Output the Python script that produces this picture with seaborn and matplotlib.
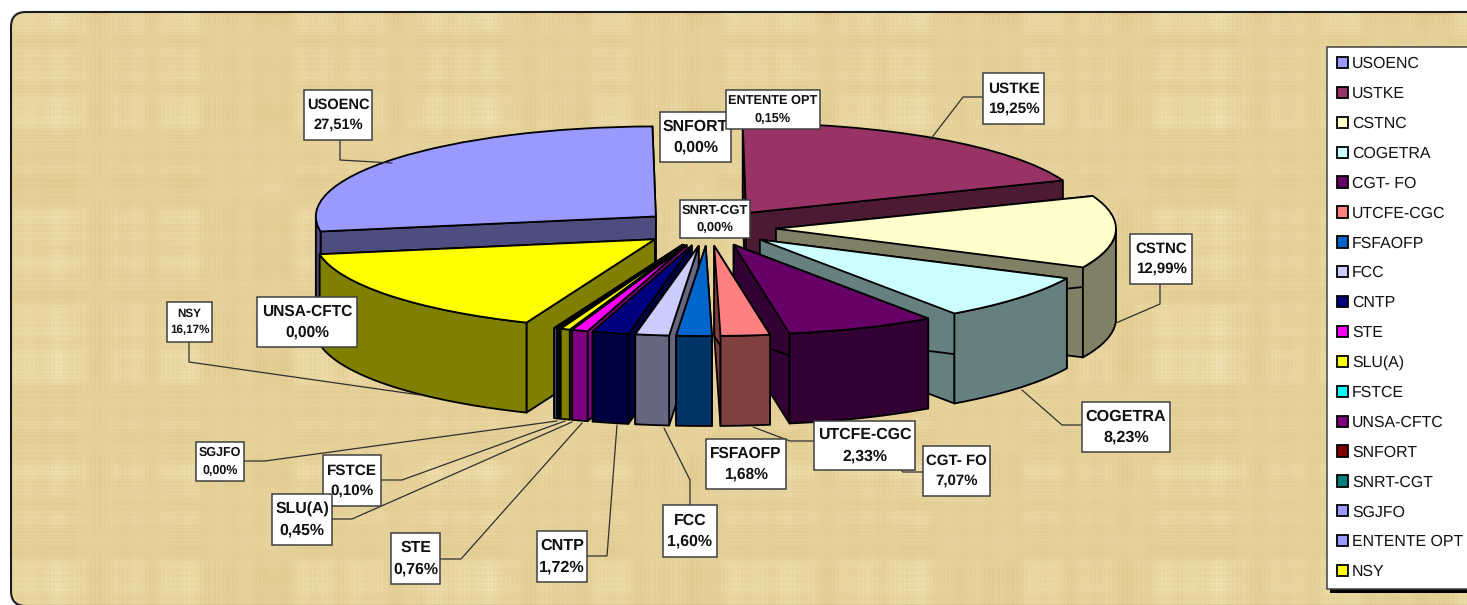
import numpy as np
import matplotlib
matplotlib.use("Agg")
import matplotlib.pyplot as plt
from matplotlib.patches import FancyBboxPatch, Polygon, Rectangle, Patch
import seaborn as sns

# ---- data ----
names = ["USOENC", "USTKE", "CSTNC", "COGETRA", "CGT- FO", "UTCFE-CGC", "FSFAOFP", "FCC", "CNTP",
         "STE", "SLU(A)", "FSTCE", "UNSA-CFTC", "SNFORT", "SNRT-CGT", "SGJFO", "ENTENTE OPT", "NSY"]
shares = [27.51, 19.25, 12.99, 8.23, 7.07, 2.33, 1.68, 1.60, 1.72,
          0.76, 0.45, 0.10, 0.00, 0.00, 0.00, 0.00, 0.15, 16.17]
colors = ["#9999FF", "#993366", "#FFFFCC", "#CCFFFF", "#660066", "#FF8080", "#0066CC", "#CCCCFF", "#000080",
          "#FF00FF", "#FFFF00", "#00FFFF", "#800080", "#800000", "#008080", "#9999FF", "#9999FF", "#FFFF00"]

# label boxes as (x0, y0, x1, y1, font size) in figure pixels: layout only
boxes = {
    "USOENC": (304, 90, 372, 140, 10.5), "USTKE": (983, 73, 1044, 124, 11),
    "ENTENTE OPT": (726, 90, 820, 129, 9.2), "SNFORT": (660, 112, 731, 162, 11.4),
    "SNRT-CGT": (680, 200, 750, 238, 9.4), "CSTNC": (1130, 234, 1192, 284, 10.8),
    "NSY": (167, 302, 212, 342, 8.4), "UNSA-CFTC": (257, 297, 357, 347, 11.2),
    "COGETRA": (1082, 402, 1170, 452, 11.6), "CGT- FO": (923, 446, 990, 496, 10.8),
    "UTCFE-CGC": (814, 421, 915, 470, 11.4), "FSFAOFP": (706, 439, 786, 489, 11.2),
    "FCC": (663, 505, 717, 557, 11.4), "CNTP": (537, 531, 587, 582, 11.6),
    "STE": (391, 533, 440, 584, 11.4), "FSTCE": (323, 455, 381, 506, 11),
    "SLU(A)": (272, 494, 332, 545, 11.4), "SGJFO": (196, 442, 244, 481, 9),
}
leaders = {
    "SGJFO": [(244, 461), (265, 461), (557, 421)], "FSTCE": [(381, 480), (402, 480), (565, 421)],
    "SLU(A)": [(332, 519), (352, 519), (572, 422)], "STE": [(440, 559), (461, 559), (582, 423)],
    "CNTP": [(587, 556), (607, 556), (617, 425)], "FCC": [(690, 505), (690, 480), (664, 428)],
    "UTCFE-CGC": [(814, 441), (790, 441), (753, 427)], "CGT- FO": [(923, 472), (903, 472), (860, 425)],
    "COGETRA": [(1082, 425), (1062, 425), (1022, 390)], "CSTNC": [(1160, 284), (1160, 304), (1116, 323)],
    "USTKE": [(983, 97), (963, 97), (930, 140)], "USOENC": [(340, 140), (340, 160), (392, 163)],
    "NSY": [(189, 342), (189, 362), (420, 395)],
}

# ---- setup ----
sns.set_theme(style="white")
plt.rcParams["font.family"] = ["Liberation Sans", "DejaVu Sans"]
plt.rcParams["text.hinting"] = "no_hinting"
W, H = 1467, 605
fig = plt.figure(figsize=(W / 100, H / 100), dpi=100, facecolor="white")
palette = sns.color_palette(colors)

# ---- parchment background ----
bg = fig.add_axes([0, 0, 1, 1], zorder=0)
bg.set_xlim(0, W); bg.set_ylim(H, 0); bg.axis("off")
xx, yy = np.arange(W, dtype=float), np.arange(H, dtype=float)
fine_x = np.sin(xx * 2.1) * .5 + np.sin(xx * 1.37 + .4) * .4 + np.sin(xx / 4.3 + 1) * .5
fine_y = np.sin(yy * 1.9) * .5 + np.sin(yy * 1.13 + 2) * .4 + np.sin(yy / 3.7) * .5
wide_x = np.sin(xx / 23.1) * .6 + np.sin(xx / 9.7 + 1.3) * .5 + np.sin(xx / 61. + .5) * .4
wide_y = np.sin(yy / 19.3 + 2) * .6 + np.sin(yy / 8.1) * .5 + np.sin(yy / 47. + 1) * .4
tex = (fine_x[None, :] * 2.4 * (1 + .5 * wide_y[:, None]) + fine_y[:, None] * 2.2 * (1 + .5 * wide_x[None, :])
       + wide_x[None, :] * wide_y[:, None] * 3.5 + wide_x[None, :] * 1.8 + wide_y[:, None] * 1.5)
base = np.array([230, 210, 155], float)
img = np.clip(base[None, None, :] + tex[..., None] * np.array([0.9, 1.2, 2.0]), 0, 255) / 255
im = bg.imshow(img, extent=(0, W, H, 0), aspect="auto", zorder=1, interpolation="bilinear")
clip = FancyBboxPatch((11, 12), 1490, 594, boxstyle="round,pad=0,rounding_size=15", fc="none",
                      ec="#1c1c1c", lw=1.5, transform=bg.transData, zorder=2)
bg.add_patch(clip)
im.set_clip_path(clip)

# ---- exploded pie seen at an angle ----
CX, CY, RX, RY, DEPTH = 708, 228, 340, 90, 90
ax = fig.add_axes([0, 0, 1, 1], zorder=1)
ax.patch.set_alpha(0)
wedges, _ = ax.pie(shares, colors=palette, startangle=189.6, counterclock=False,
                   explode=[0.2] * len(shares), radius=1,
                   wedgeprops=dict(edgecolor="black", linewidth=1.3))
ax.set_aspect("auto")
ax.set_xlim(-CX / RX, (W - CX) / RX)
ax.set_ylim(-(H - CY) / RY, CY / RY)
ax.axis("off")
d = DEPTH / RY


def dark(c):
    return tuple(0.5 * v for v in c)


order = sorted(range(len(wedges)),
               key=lambda i: -np.sin(np.radians((wedges[i].theta1 + wedges[i].theta2) / 2)))
for z, i in enumerate(order):
    w = wedges[i]
    base_z = 10 + z * 4
    w.set_zorder(base_z + 3)
    if shares[i] == 0:
        w.set_linewidth(0)
        continue
    cx, cy = w.center
    side = dark(palette[i])
    style = dict(fc=side, ec="black", lw=1.3, joinstyle="round")
    for k, th in enumerate((w.theta1, w.theta2)):
        px = cx + np.cos(np.radians(th)) * w.r
        py = cy + np.sin(np.radians(th)) * w.r
        ax.add_patch(Polygon([(cx, cy), (px, py), (px, py - d), (cx, cy - d)], zorder=base_z + k, **style))
    t = np.radians(np.linspace(w.theta1, w.theta2, 400))
    t = t[np.sin(t) <= 0]
    if t.size > 1:
        ox, oy = cx + np.cos(t) * w.r, cy + np.sin(t) * w.r
        pts = np.r_[np.c_[ox, oy], np.c_[ox, oy - d][::-1]]
        ax.add_patch(Polygon(pts, zorder=base_z + 2, **style))

# ---- labels, leaders, legend ----
ov = fig.add_axes([0, 0, 1, 1], zorder=2)
ov.set_xlim(0, W); ov.set_ylim(H, 0); ov.axis("off"); ov.patch.set_alpha(0)
for name, pts in leaders.items():
    ov.plot(*zip(*pts), color="#303030", lw=0.9, zorder=2)
for n, (name, share) in enumerate(zip(names, shares)):
    x0, y0, x1, y1, fs = boxes[name]
    z = 4 if name == "SLU(A)" else 3
    ov.add_patch(Rectangle((x0, y0), x1 - x0, y1 - y0, fc="white", ec="#404040", lw=1.1, zorder=z))
    ov.text((x0 + x1) / 2, (y0 + y1) / 2, f"{name}\n{share:.2f}".replace(".", ",") + "%",
            ha="center", va="center", fontsize=fs, fontweight="bold", color="#111111",
            linespacing=1.55, zorder=z)

ov.add_patch(Rectangle((1330, 50), 160, 543, fc="black", ec="none", zorder=4))
handles = [Patch(fc=c, ec="black", lw=1.3) for c in palette]
leg = ov.legend(handles, names, bbox_to_anchor=(1327 / W, 1 - 47 / H, 170 / W, 0),
                bbox_transform=fig.transFigure,
                loc="upper left", mode="expand", borderaxespad=0, fontsize=11.4, frameon=True, fancybox=False,
                edgecolor="#404040", facecolor="white", framealpha=1, handlelength=0.72, handleheight=0.72,
                handletextpad=0.25, labelspacing=0.945, borderpad=0.6, labelcolor="#111111")
leg.set_zorder(5)
leg.get_frame().set_linewidth(1.1)

fig.savefig("out.png", dpi=100)
